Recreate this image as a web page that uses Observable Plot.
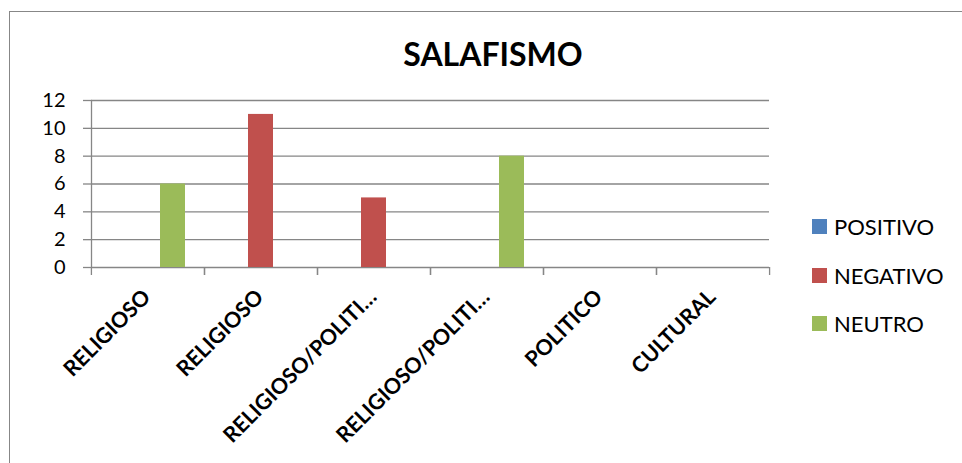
<!DOCTYPE html>
<html>
<head>
<meta charset="utf-8">
<script src="https://cdn.jsdelivr.net/npm/d3@7"></script>
<script src="https://cdn.jsdelivr.net/npm/@observablehq/plot@0.6"></script>
<style>
  html, body { margin: 0; padding: 0; background: #fff; }
  #wrap { position: relative; width: 962px; height: 463px; overflow: hidden; font-family: Lato, "Open Sans", sans-serif; }
  #border { position: absolute; left: 9px; top: 11px; width: 2000px; height: 2000px; border-left: 1.5px solid #878787; border-top: 1.5px solid #878787; }
  #chart { position: absolute; left: 0; top: 0; }
  #title { position: absolute; left: 493px; top: 38px; transform: translateX(-50%); font-size: 32px; line-height: 32px; font-weight: bold; color: #000; white-space: nowrap; }
  .leg { position: absolute; left: 812px; height: 24px; display: flex; align-items: center; font-size: 22px; color: #000; white-space: nowrap; }
  .leg span.sw { display: inline-block; width: 15px; height: 15px; margin-right: 7px; }
</style>
</head>
<body>
<div id="wrap">
  <div id="border"></div>
  <div id="chart"></div>
  <div id="title">SALAFISMO</div>
  <div id="legend"></div>
</div>
<script>
const categoryKeys = ["c1", "c2", "c3", "c4", "c5", "c6"];
const categoryLabels = ["RELIGIOSO", "RELIGIOSO", "RELIGIOSO/POLITI…", "RELIGIOSO/POLITI…", "POLITICO", "CULTURAL"];
const seriesNames = ["POSITIVO", "NEGATIVO", "NEUTRO"];
const seriesColors = ["#4F81BD", "#C0504D", "#9BBB59"];
const positivo = [0, 0, 0, 0, 0, 0];
const negativo = [0, 11, 5, 0, 0, 0];
const neutro = [6, 0, 0, 8, 0, 0];
const yTicks = [0, 2, 4, 6, 8, 10, 12];

const seriesValues = [positivo, negativo, neutro];
const data = [];
categoryKeys.forEach((c, i) => {
  seriesNames.forEach((s, j) => {
    data.push({cat: c, series: s, value: seriesValues[j][i]});
  });
});
const labelOf = new Map(categoryKeys.map((k, i) => [k, categoryLabels[i]]));

const W = 962, H = 463;
const mL = 90, mR = 193, mT = 100, mB = 196;
const band = (W - mL - mR) / categoryKeys.length;
const gray = "#868686";

const chart = Plot.plot({
  width: W,
  height: H,
  marginLeft: mL,
  marginRight: mR,
  marginTop: mT,
  marginBottom: mB,
  style: {fontFamily: "Lato, 'Open Sans', sans-serif", background: "transparent", overflow: "visible"},
  fx: {domain: categoryKeys, padding: 0, label: null, axis: null},
  x: {domain: seriesNames, paddingInner: 0, paddingOuter: 0.75, axis: null},
  y: {domain: [0, 12], label: null},
  color: {domain: seriesNames, range: seriesColors},
  marks: [
    Plot.ruleY(yTicks, {stroke: gray, strokeWidth: 1.3}),
    Plot.frame({anchor: "left", facetAnchor: "left", stroke: gray, strokeWidth: 1.3}),
    Plot.axisY({ticks: yTicks, tickSize: 8, tickPadding: 18, stroke: gray, fill: "#000", fontSize: 20, label: null, strokeWidth: 1.3}),
    Plot.axisFx({anchor: "bottom", tickSize: 8, tickFormat: () => "", dx: -band / 2, stroke: gray, strokeWidth: 1.3, label: null}),
    Plot.axisFx({anchor: "bottom", tickSize: 8, tickFormat: () => "", dx: band / 2, stroke: gray, strokeWidth: 1.3, label: null}),
    Plot.axisFx({anchor: "bottom", tickSize: 0, tickPadding: 26, tickRotate: -45, dx: -1, tickFormat: d => labelOf.get(d), fontSize: 21.5, fontWeight: "bold", fill: "#000", label: null}),
    Plot.barY(data, {fx: "cat", x: "series", y: "value", fill: "series"})
  ]
});
document.getElementById("chart").appendChild(chart);

const legend = document.getElementById("legend");
const legendCenters = [226, 275, 323];
seriesNames.forEach((s, i) => {
  const row = document.createElement("div");
  row.className = "leg";
  row.style.top = (legendCenters[i] - 12) + "px";
  const sw = document.createElement("span");
  sw.className = "sw";
  sw.style.background = seriesColors[i];
  row.appendChild(sw);
  row.appendChild(document.createTextNode(s));
  legend.appendChild(row);
});
</script>
</body>
</html>
